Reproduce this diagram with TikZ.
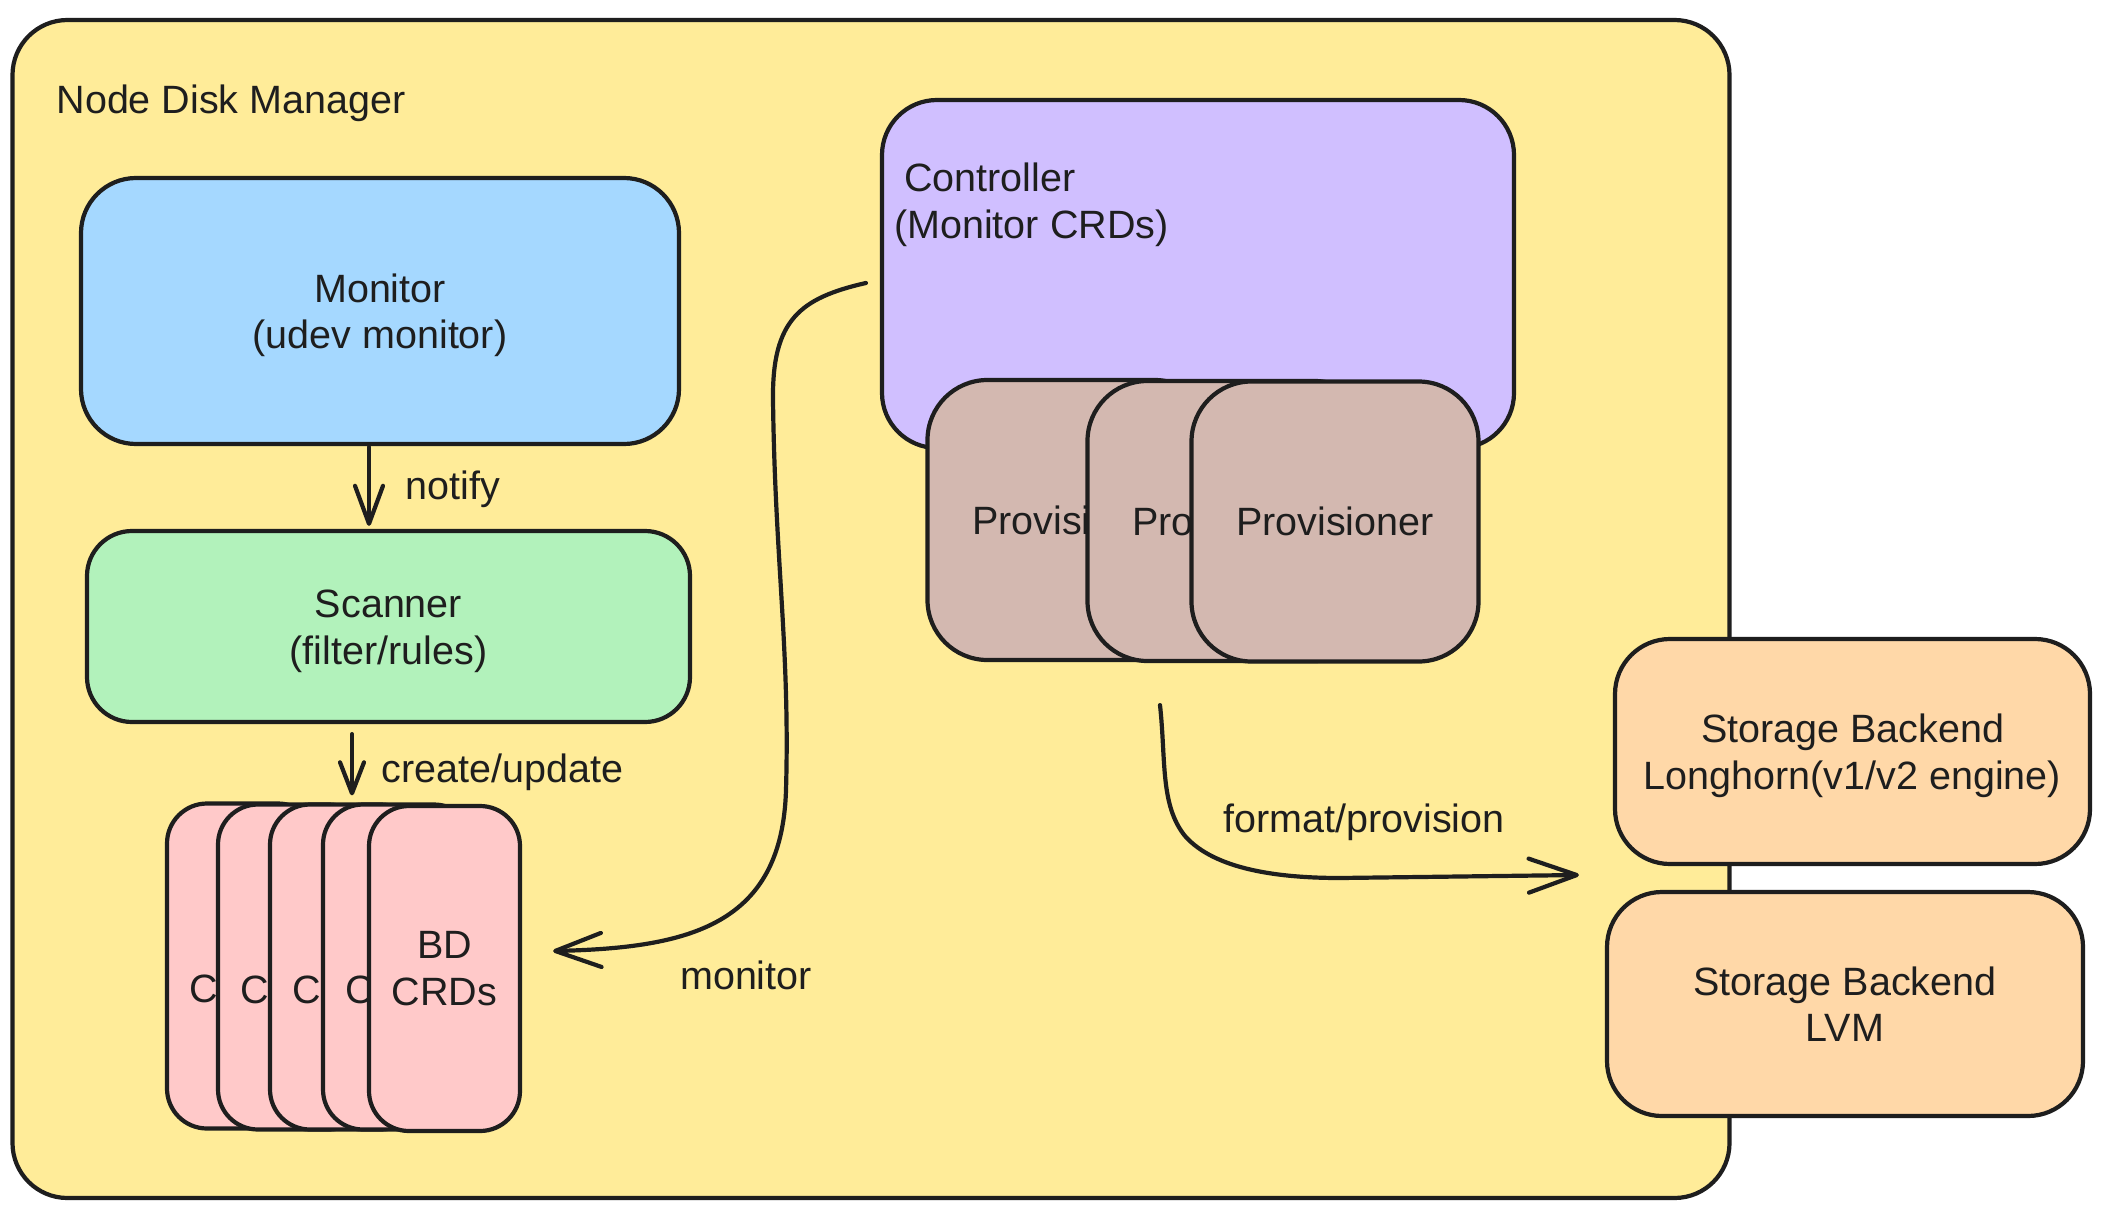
\documentclass[tikz,border=0pt]{standalone}
\usepackage{fontspec}
\setmainfont{Liberation Sans}
\usetikzlibrary{arrows.meta,calc}
\definecolor{ink}{HTML}{1E1E1E}
\definecolor{ndmfill}{HTML}{FFEC99}
\definecolor{monfill}{HTML}{A5D8FF}
\definecolor{scanfill}{HTML}{B2F2BB}
\definecolor{crdfill}{HTML}{FFC9C9}
\definecolor{ctrlfill}{HTML}{D0BFFF}
\definecolor{provfill}{HTML}{D3B8B0}
\definecolor{storfill}{HTML}{FFD8A8}
\newcommand\topstrut{\rule{0pt}{37pt}}
\begin{document}
\begin{tikzpicture}[x=1pt,y=-1pt,
  txt/.style={text=ink, font=\fontsize{39.5}{46.5}\selectfont},
  box/.style={txt, draw=ink, line width=4.2pt, line join=round, inner sep=0pt, align=center},
  bigbox/.style={box, rounded corners=55pt},
  card/.style={box, rounded corners=40pt, fill=crdfill, minimum width=151pt, minimum height=325pt},
  provcard/.style={box, rounded corners=60pt, fill=provfill, minimum width=287pt, minimum height=280pt},
  arr/.style={draw=ink, line width=4.2pt, line cap=round, line join=round},
]
\useasboundingbox (0,0) rectangle (2109,1220);
\fill[white] (0,0) rectangle (2109,1220);

% outer container
\node[bigbox, fill=ndmfill, minimum width=1717pt, minimum height=1178pt] (ndm) at (871,609) {};
\node[txt, anchor=west] (ndmlabel) at (53,103) {Node Disk Manager};

% monitor and scanner
\node[bigbox, fill=monfill, minimum width=598pt, minimum height=266pt] (mon) at (380,311) {\topstrut Monitor\\(udev monitor)};
\node[bigbox, rounded corners=45pt, fill=scanfill, minimum width=603pt, minimum height=191pt] (scan) at (388.5,626.5) {\topstrut Scanner\\(filter/rules)};

% BD CRD cards
\node[card] (crd1) at (242.5,966) {BD\\CRDs};
\node[card] (crd2) at (293.5,967) {BD\\CRDs};
\node[card] (crd3) at (345.5,967) {BD\\CRDs};
\node[card] (crd4) at (398.5,967) {BD\\CRDs};
\node[card] (crd5) at (444.5,968.5) {BD\\CRDs};

% controller
\node[bigbox, fill=ctrlfill, minimum width=632pt, minimum height=348pt] (ctrl) at (1198,274) {};
\node[txt, anchor=north west, align=left, inner sep=0pt] (ctrltext) at (894,163) {\hspace*{10pt}Controller\\(Monitor CRDs)};

% provisioner cards
\node[provcard] (prov1) at (1071,520) {Provisioner};
\node[provcard] (prov2) at (1231,521) {Provisioner};
\node[provcard] (prov3) at (1335,521.5) {Provisioner};

% storage backends
\node[bigbox, fill=storfill, minimum width=475pt, minimum height=225pt] (lh) at (1852.5,751.5) {\topstrut Storage Backend\\Longhorn(v1/v2 engine)};
\node[bigbox, fill=storfill, minimum width=476pt, minimum height=224pt] (lvm) at (1845,1004) {Storage Backend\\LVM};

% notify
\draw[arr, -{Straight Barb[length=38pt, width=28pt, round]}] ($(mon.south)+(-11,1)$) -- ($(scan.north)+(-19.5,-3)$);
\node[txt, anchor=west] (notifylbl) at (402,489) {notify};

% create/update
\draw[arr, -{Straight Barb[length=31pt, width=24pt, round]}] ($(scan.south)+(-36.5,10)$) -- ($(crd3.north)+(6.5,-7)$);
\node[txt, anchor=west] (createlbl) at (378,772) {create/update};

% monitor (controller -> CRDs)
\coordinate (monstart) at ($(ctrl.west)+(-14,9)$);
\coordinate (montip) at ($(crd5.east)+(31,-17.5)$);
\draw[arr, -{Straight Barb[length=46pt, width=34pt, round]}] (monstart) .. controls (800,298) and (772,320) .. (773,400) .. controls (775,560) and (790,650) .. (786,790) .. controls (782,925) and (690,948) .. (montip);
\node[txt] (monlbl) at (746,975) {monitor};

% format/provision
\coordinate (fmtstart) at ($(prov2.south)+(-71,42)$);
\coordinate (fmttip) at ($(lh.west)+(-34,123.5)$);
\draw[arr, -{Straight Barb[length=48pt, width=34pt, round]}] (fmtstart) .. controls (1166,760) and (1160,805) .. (1185,836) .. controls (1215,870) and (1280,878) .. (1340,878) -- (fmttip);
\node[txt] (fmtlbl) at (1364,822) {format/provision};
\end{tikzpicture}
\end{document}
